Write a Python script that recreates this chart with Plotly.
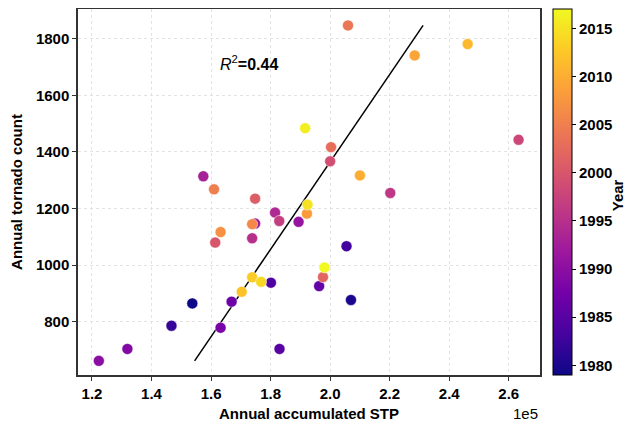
import numpy as np
import plotly.graph_objects as go

# Annual accumulated STP (x 1e5), annual tornado count, year
stp = [1.537, 2.070, 1.467, 2.055, 1.801, 1.830, 1.963, 1.669, 1.632, 1.319,
       1.223, 1.894, 1.748, 1.574, 1.815, 1.738, 2.202, 1.829, 2.633, 2.000,
       1.614, 1.748, 1.976, 2.003, 2.060, 1.610, 1.738, 1.632, 1.922, 2.284,
       2.100, 2.462, 1.703, 1.738, 1.768, 1.924, 1.916, 1.981]
tornado = [865, 877, 786, 1067, 938, 704, 926, 871, 779, 704,
           662, 1153, 1147, 1314, 1186, 1095, 1255, 1156, 1443, 1367,
           1080, 1235, 958, 1417, 1847, 1268, 1145, 1117, 1182, 1741,
           1317, 1781, 906, 957, 941, 1214, 1484, 992]
years = [1979, 1980, 1982, 1983, 1984, 1985, 1986, 1987, 1988, 1989,
         1990, 1991, 1992, 1993, 1994, 1995, 1996, 1997, 1998, 1999,
         2000, 2001, 2002, 2003, 2004, 2005, 2006, 2007, 2008, 2009,
         2010, 2011, 2012, 2013, 2014, 2015, 2016, 2017]
cbar_ticks = [1980, 1985, 1990, 1995, 2000, 2005, 2010, 2015]
x_ticks = [1.2, 1.4, 1.6, 1.8, 2.0, 2.2, 2.4, 2.6]
y_ticks = [800, 1000, 1200, 1400, 1600, 1800]

x = np.array(stp)
y = np.array(tornado)
# regression of x on y, drawn across the range of tornado counts
b, a = np.polyfit(y, x, 1)
ly = np.array([y.min(), y.max()])
lx = a + b * ly

FONT = "Liberation Sans"
TICKF = dict(family=FONT, size=15, color="black", weight="bold")
TITLEF = dict(family=FONT, size=15, color="black", weight="bold")
fig = go.Figure()
fig.add_trace(go.Scatter(
    x=lx, y=ly, mode="lines", line=dict(color="black", width=1.5),
    showlegend=False, hoverinfo="skip"))
fig.add_trace(go.Scatter(
    x=stp, y=tornado, mode="markers",
    marker=dict(size=11, color=years, colorscale="Plasma", cmin=1979, cmax=2017,
                line=dict(color="white", width=0.5),
                colorbar=dict(
                    tickvals=cbar_ticks, ticks="outside", ticklen=4, tickcolor="black",
                    tickfont=TICKF,
                    thickness=19, len=1.0, lenmode="fraction",
                    x=1.028, xanchor="left", y=0.5, yanchor="middle",
                    outlinecolor="black", outlinewidth=1, ypad=0, xpad=0)),
    showlegend=False))

# colorbar title as a rotated annotation so it stays inside the window
fig.add_annotation(x=1.168, y=0.49, xref="paper", yref="paper", xanchor="center", yanchor="middle",
                   text="Year", textangle=-90, showarrow=False, font=TITLEF)
fig.add_annotation(x=1.728, y=1716, text="<i>R</i><sup>2</sup><b>=0.44</b>",
                   showarrow=False, font=dict(family=FONT, size=16, color="black"))
fig.add_annotation(x=1.0, y=-0.104, xref="paper", yref="paper", xanchor="right", yanchor="middle",
                   text="1e5", showarrow=False,
                   font=dict(family=FONT, size=15, color="black"))

axis_common = dict(showline=True, linecolor="#333", linewidth=1.5, mirror=True,
                   ticks="outside", ticklen=4, tickcolor="#333",
                   showgrid=True, gridcolor="#e3e3e3", griddash="3px,3px", gridwidth=1,
                   zeroline=False, automargin=False, tickfont=TICKF)
fig.update_xaxes(range=[1.153, 2.705], tickvals=x_ticks,
                 ticktext=[f"{v:.1f}" for v in x_ticks],
                 title=dict(text="Annual accumulated STP", standoff=8, font=TITLEF),
                 **axis_common)
fig.update_yaxes(range=[612, 1905], tickvals=y_ticks,
                 title=dict(text="Annual tornado count", standoff=14, font=TITLEF),
                 **axis_common)
# the page body adds an 8px offset, so the figure is sized to fill the rest of the window
fig.update_layout(width=626, height=419,
                  margin=dict(l=70, r=94, t=1, b=52, autoexpand=False),
                  plot_bgcolor="white", paper_bgcolor="white")
fig.write_html("out.html")
